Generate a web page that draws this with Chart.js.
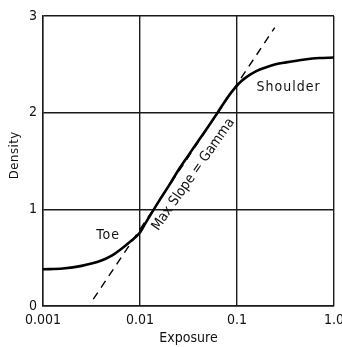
<!DOCTYPE html>
<html>
<head>
<meta charset="utf-8">
<script src="https://cdn.jsdelivr.net/npm/chart.js@4"></script>
<style>
  body { margin: 0; background: #fff; }
  #wrap { width: 342px; height: 347px; }
</style>
</head>
<body>
<div id="wrap"><canvas id="hd"></canvas></div>
<script>
// characteristic curve
var exposure = [0.001, 0.0016, 0.0025, 0.004, 0.005, 0.0063, 0.0079, 0.01, 0.0112, 0.0126, 0.0158, 0.02, 0.025, 0.0316, 0.04, 0.05, 0.063, 0.079, 0.089, 0.1, 0.112, 0.126, 0.158, 0.2, 0.25, 0.32, 0.5, 0.7, 1.0];
var density = [0.38, 0.388, 0.415, 0.47, 0.515, 0.585, 0.665, 0.76, 0.845, 0.93, 1.09, 1.25, 1.41, 1.56, 1.71, 1.85, 2.0, 2.15, 2.22, 2.28, 2.33, 2.37, 2.43, 2.47, 2.5, 2.52, 2.55, 2.565, 2.57];

// tangent at max slope (gamma)
var gammaX = [0.0033, 0.245];
var gammaY = [0.07, 2.88];

var xTicks = [0.001, 0.01, 0.1, 1];
var xTickLabels = ["0.001", "0.01", "0.1", "1.0"];
var yTicks = [0, 1, 2, 3];

var notes = [
  { text: "Toe", x: 0.0047, y: 0.73, rot: 0, size: 14, sp: 1 },
  { text: "Shoulder", x: 0.34, y: 2.26, rot: 0, size: 14, sp: 1 },
  { text: "Max Slope = Gamma", x: 0.0355, y: 1.36, rot: -55, size: 14, sp: 0 },
  { text: "Density", x: 0.00051, y: 1.56, rot: -90, size: 13, sp: 0.5 }
];

var FONT = "'Liberation Sans Narrow', 'DejaVu Sans Condensed', sans-serif";

var notePlugin = {
  id: "notes",
  afterDatasetsDraw(chart) {
    let ctx = chart.ctx, xs = chart.scales.x, ys = chart.scales.y;
    ctx.save();
    ctx.fillStyle = "#111";
    ctx.textAlign = "center";
    ctx.textBaseline = "middle";
    notes.forEach(function (n) {
      ctx.save();
      ctx.font = n.size + "px " + FONT;
      ctx.letterSpacing = n.sp + "px";
      ctx.translate(xs.getPixelForValue(n.x), ys.getPixelForValue(n.y));
      ctx.rotate(n.rot * Math.PI / 180);
      ctx.fillText(n.text, 0, 0);
      ctx.restore();
    });
    ctx.restore();
  }
};

let ctx = document.getElementById("hd").getContext("2d");

new Chart(ctx, {
  type: "line",
  data: {
    datasets: [
      {
        data: exposure.map((v, i) => ({ x: v, y: density[i] })),
        borderColor: "#000",
        borderWidth: 2.6,
        pointRadius: 0,
        cubicInterpolationMode: "monotone",
        fill: false
      },
      {
        data: gammaX.map((v, i) => ({ x: v, y: gammaY[i] })),
        borderColor: "#000",
        borderWidth: 1.4,
        borderDash: [8, 6],
        pointRadius: 0,
        fill: false
      }
    ]
  },
  options: {
    responsive: true,
    maintainAspectRatio: false,
    animation: false,
    layout: { padding: { left: 0, right: 8, top: 16, bottom: 0 } },
    plugins: { legend: { display: false }, tooltip: { enabled: false } },
    scales: {
      x: {
        type: "logarithmic",
        min: 0.001,
        max: 1,
        afterBuildTicks: (s) => { s.ticks = xTicks.map((v) => ({ value: v })); },
        afterFit: (s) => { s.height = 41; s.paddingLeft = 0; s.paddingRight = 0; },
        grid: { color: "#1a1a1a", lineWidth: 1.4, drawTicks: false },
        border: { color: "#1a1a1a", width: 1.4 },
        ticks: {
          color: "#111",
          padding: 6,
          maxRotation: 0,
          font: { family: FONT, size: 14 },
          callback: (v) => xTickLabels[xTicks.indexOf(v)]
        },
        title: {
          display: true,
          text: "Exposure",
          color: "#111",
          padding: 0,
          font: { family: FONT, size: 14 }
        }
      },
      y: {
        min: 0,
        max: 3,
        afterBuildTicks: (s) => { s.ticks = yTicks.map((v) => ({ value: v })); },
        afterFit: (s) => { s.width = 43; },
        grid: { color: "#1a1a1a", lineWidth: 1.4, drawTicks: false },
        border: { color: "#1a1a1a", width: 1.4 },
        ticks: {
          color: "#111",
          padding: 6,
          font: { family: FONT, size: 14 }
        }
      }
    }
  },
  plugins: [notePlugin]
});
</script>
</body>
</html>
